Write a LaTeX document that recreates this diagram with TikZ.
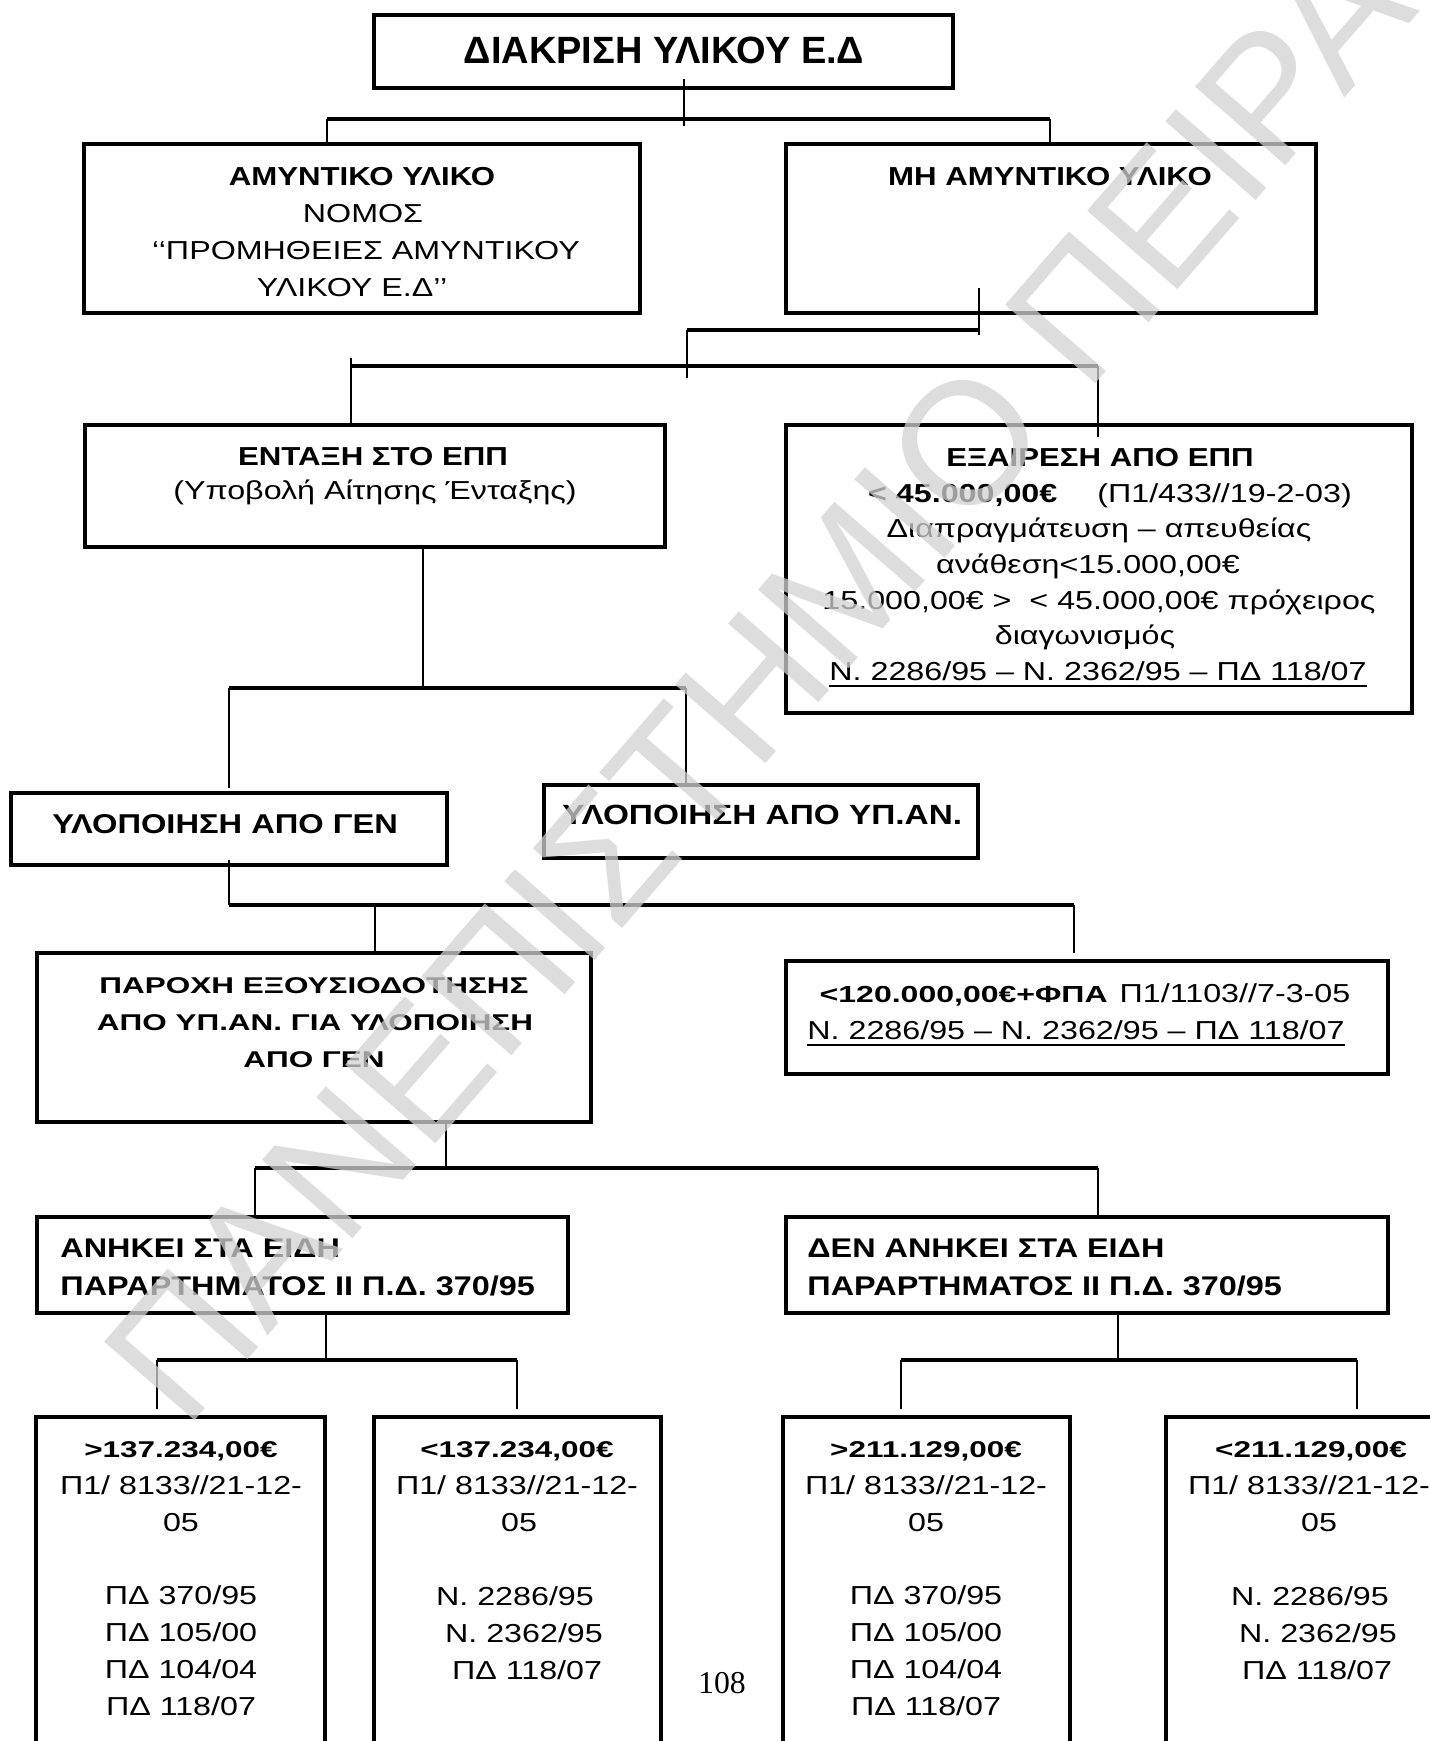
\documentclass[tikz,border=0pt]{standalone}
\usepackage{fontspec}
\setmainfont{Liberation Sans}
\newfontfamily\wideR[FakeStretch=1.24]{Liberation Sans}
\newfontfamily\wideB[FakeStretch=1.2]{Liberation Sans}
\newfontfamily\wideC[FakeStretch=1.38]{Liberation Sans}
\newfontfamily\serifnum{Liberation Serif}
\usetikzlibrary{fit}

\tikzset{
  box/.style={draw, line width=1.8pt, inner sep=0pt},
  link/.style={line width=1.3pt},
  bar/.style={line width=2.1pt},
  ulrule/.style={line width=1.1pt},
  txt/.style={inner sep=0pt, anchor=base},
  reg/.style={txt, font=\wideR\fontsize{13}{18}\selectfont},
  hdr/.style={txt, font=\wideB\bfseries\fontsize{13}{18}\selectfont},
  hdrl/.style={txt, font=\wideB\bfseries\fontsize{13.5}{18}\selectfont},
  hdrs/.style={txt, font=\wideC\bfseries\fontsize{11.4}{18}\selectfont},
  ttl/.style={txt, font=\bfseries\fontsize{19}{22}\selectfont},
  wmark/.style={inner sep=0pt, text=gray!35, opacity=0.75,
    font=\fontsize{87}{87}\selectfont}
}

\begin{document}
\begin{tikzpicture}[x=0.5pt, y=-0.5pt]
\useasboundingbox (0,0) rectangle (1430,1741);
\clip (0,0) rectangle (1430,1741);

% ---- boxes ----
\node[box, fit={(374,15) (953,88)}] (title) {};
\node[box, fit={(84,144) (640,313)}] (amyn) {};
\node[box, fit={(786,144) (1316,313)}] (nonamyn) {};
\node[box, fit={(85,425) (665,547)}] (entaxi) {};
\node[box, fit={(786,425) (1412,713)}] (exairesi) {};
\node[box, fit={(11,793) (447,865)}] (gen) {};
\node[box, fit={(544,785) (978,858)}] (ypan) {};
\node[box, fit={(37,953) (591,1122)}] (paroxi) {};
\node[box, fit={(786,961) (1388,1074)}] (lowval) {};
\node[box, fit={(37,1217) (568,1313)}] (anikei) {};
\node[box, fit={(786,1217) (1388,1313)}] (denanikei) {};
\node[box, fit={(36,1417) (325,1790)}] (q1) {};
\node[box, fit={(374,1417) (661,1790)}] (q2) {};
\node[box, fit={(783,1417) (1070,1790)}] (q3) {};
\node[box, fit={(1166,1417) (1455,1790)}] (q4) {};

% ---- connectors: thin drops, heavy horizontal bars ----
\coordinate (t0) at (684,79);
\coordinate (t1) at (684,126);
\coordinate (tL) at (327,119);
\coordinate (tR) at (1050,119);
\draw[link] (t0) -- (t1);
\draw[bar] (tL) -- (tR);
\draw[link] (tL) -- (tL |- amyn.north);
\draw[link] (tR) -- (tR |- nonamyn.north);

\coordinate (m0) at (979,288);
\coordinate (m1) at (979,335);
\coordinate (m2) at (979,330);
\coordinate (m3) at (687,330);
\coordinate (m4) at (687,378);
\draw[link] (m0) -- (m1);
\draw[bar] (m2) -- (m3);
\draw[link] (m3) -- (m4);

\coordinate (e0) at (351,358);
\coordinate (eL) at (351,366);
\coordinate (eR) at (1098,366);
\coordinate (eR1) at (1098,437);
\draw[link] (e0) -- (e0 |- entaxi.north);
\draw[bar] (eL) -- (eR);
\draw[link] (eR) -- (eR1);

\coordinate (g0) at (423,688);
\coordinate (gL) at (229,688);
\coordinate (gR) at (686,688);
\coordinate (gL1) at (229,788);
\draw[link] (entaxi.south -| g0) -- (g0);
\draw[bar] (gL) -- (gR);
\draw[link] (gL) -- (gL1);
\draw[link] (gR) -- (gR |- ypan.north);

\coordinate (h0) at (229,860);
\coordinate (hL) at (229,905);
\coordinate (hR) at (1074,905);
\coordinate (hR1) at (1074,953);
\coordinate (hM) at (375,905);
\draw[link] (h0) -- (hL);
\draw[bar] (hL) -- (hR);
\draw[link] (hR) -- (hR1);
\draw[link] (hM) -- (hM |- paroxi.north);

\coordinate (p0) at (446,1168);
\coordinate (pL) at (255,1168);
\coordinate (pR) at (1098,1168);
\draw[link] (paroxi.south -| p0) -- (p0);
\draw[bar] (pL) -- (pR);
\draw[link] (pL) -- (pL |- anikei.north);
\draw[link] (pR) -- (pR |- denanikei.north);

\coordinate (a0) at (326,1360);
\coordinate (aL) at (157,1360);
\coordinate (aR) at (517,1360);
\coordinate (aL1) at (157,1409);
\coordinate (aR1) at (517,1409);
\draw[link] (anikei.south -| a0) -- (a0);
\draw[bar] (aL) -- (aR);
\draw[link] (aL) -- (aL1);
\draw[link] (aR) -- (aR1);

\coordinate (d0) at (1118,1360);
\coordinate (dL) at (901,1360);
\coordinate (dR) at (1357,1360);
\coordinate (dL1) at (901,1409);
\coordinate (dR1) at (1357,1409);
\draw[link] (denanikei.south -| d0) -- (d0);
\draw[bar] (dL) -- (dR);
\draw[link] (dL) -- (dL1);
\draw[link] (dR) -- (dR1);

% ---- texts ----
\node[ttl] (ttl1) at (664,63) {ΔΙΑΚΡΙΣΗ ΥΛΙΚΟΥ Ε.Δ};

\node[hdr] (am1) at (362,185) {ΑΜΥΝΤΙΚΟ ΥΛΙΚΟ};
\node[reg] (am2) at (363,222) {ΝΟΜΟΣ};
\node[reg] (am3) at (366,259) {‘‘ΠΡΟΜΗΘΕΙΕΣ ΑΜΥΝΤΙΚΟΥ};
\node[reg] (am4) at (352,296) {ΥΛΙΚΟΥ Ε.Δ’’};

\node[hdr] (na1) at (1050,185) {ΜΗ ΑΜΥΝΤΙΚΟ ΥΛΙΚΟ};

\node[hdr] (en1) at (373,465) {ΕΝΤΑΞΗ ΣΤΟ ΕΠΠ};
\node[reg] (en2) at (375,499) {(Υποβολή Αίτησης Ένταξης)};

\node[hdr] (ex1) at (1100,466) {ΕΞΑΙΡΕΣΗ ΑΠΟ ΕΠΠ};
\node[reg] (ex2) at (1110,502) {{\bfseries < 45.000,00€}\hspace{20pt}(Π1/433//19-2-03)};
\node[reg] (ex3) at (1099,537) {Διαπραγμάτευση – απευθείας};
\node[reg] (ex4) at (1088,573) {ανάθεση<15.000,00€};
\node[reg] (ex5) at (1099,609) {15.000,00€ >\ \ < 45.000,00€ πρόχειρος};
\node[reg] (ex6) at (1085,644) {διαγωνισμός};
\node[reg] (ex7) at (1098,680) {Ν. 2286/95 – Ν. 2362/95 – ΠΔ 118/07};
\draw[ulrule] ([yshift=-3pt]ex7.base west) -- ([yshift=-3pt]ex7.base east);

\node[hdrl, anchor=base west, font=\wideB\bfseries\fontsize{13.6}{18}\selectfont] (ge1) at (52,833) {ΥΛΟΠΟΙΗΣΗ ΑΠΟ ΓΕΝ};
\node[hdrl, anchor=base west, font=\wideB\bfseries\fontsize{13.9}{18}\selectfont] (yp1) at (562,824) {ΥΛΟΠΟΙΗΣΗ ΑΠΟ ΥΠ.ΑΝ.};

\node[hdrs] (pa1) at (314,993) {ΠΑΡΟΧΗ ΕΞΟΥΣΙΟΔΟΤΗΣΗΣ};
\node[hdrs] (pa2) at (315,1030) {ΑΠΟ ΥΠ.ΑΝ. ΓΙΑ ΥΛΟΠΟΙΗΣΗ};
\node[hdrs] (pa3) at (314,1067) {ΑΠΟ ΓΕΝ};

\node[reg] (lv1) at (1085,1002) {{\wideC\bfseries\fontsize{11.6}{18}\selectfont <120.000,00€+ΦΠΑ}\hspace{6pt}Π1/1103//7-3-05};
\node[reg] (lv2) at (1076,1039) {Ν. 2286/95 – Ν. 2362/95 – ΠΔ 118/07};
\draw[ulrule] ([yshift=-3pt]lv2.base west) -- ([yshift=-3pt]lv2.base east);

\node[hdrl, anchor=base west] (an1) at (60,1257) {ΑΝΗΚΕΙ ΣΤΑ ΕΙΔΗ};
\node[hdrl, anchor=base west] (an2) at (60,1295) {ΠΑΡΑΡΤΗΜΑΤΟΣ ΙΙ Π.Δ. 370/95};
\node[hdrl, anchor=base west] (dn1) at (807,1257) {ΔΕΝ ΑΝΗΚΕΙ ΣΤΑ ΕΙΔΗ};
\node[hdrl, anchor=base west] (dn2) at (807,1295) {ΠΑΡΑΡΤΗΜΑΤΟΣ ΙΙ Π.Δ. 370/95};

\node[hdrs] (qa1) at (181,1457) {>137.234,00€};
\node[reg] (qa2) at (181,1494) {Π1/ 8133//21-12-};
\node[reg] (qa3) at (181,1531) {05};
\node[reg] (qa4) at (181,1604) {ΠΔ 370/95};
\node[reg] (qa5) at (181,1641) {ΠΔ 105/00};
\node[reg] (qa6) at (181,1678) {ΠΔ 104/04};
\node[reg] (qa7) at (181,1715) {ΠΔ 118/07};

\node[hdrs] (qb1) at (517,1457) {<137.234,00€};
\node[reg] (qb2) at (517,1494) {Π1/ 8133//21-12-};
\node[reg] (qb3) at (519,1531) {05};
\node[reg] (qb4) at (515,1605) {Ν. 2286/95};
\node[reg] (qb5) at (524,1642) {Ν. 2362/95};
\node[reg] (qb6) at (527,1679) {ΠΔ 118/07};

\node[hdrs] (qc1) at (926,1457) {>211.129,00€};
\node[reg] (qc2) at (926,1494) {Π1/ 8133//21-12-};
\node[reg] (qc3) at (926,1531) {05};
\node[reg] (qc4) at (926,1604) {ΠΔ 370/95};
\node[reg] (qc5) at (926,1641) {ΠΔ 105/00};
\node[reg] (qc6) at (926,1678) {ΠΔ 104/04};
\node[reg] (qc7) at (926,1715) {ΠΔ 118/07};

\node[hdrs] (qd1) at (1311,1457) {<211.129,00€};
\node[reg] (qd2) at (1309,1494) {Π1/ 8133//21-12-};
\node[reg] (qd3) at (1319,1531) {05};
\node[reg] (qd4) at (1310,1605) {Ν. 2286/95};
\node[reg] (qd5) at (1318,1642) {Ν. 2362/95};
\node[reg] (qd6) at (1317,1679) {ΠΔ 118/07};

\node[inner sep=0pt, anchor=base, font=\serifnum\fontsize{15.9}{18}\selectfont] (pg) at (722,1693) {108};

% ---- watermark ----
\node[wmark, rotate=49, anchor=base west] (wm) at (185,1432) {ΠΑΝΕΠΙΣΤΗΜΙΟ ΠΕΙΡΑΙΩΣ};
\end{tikzpicture}
\end{document}
